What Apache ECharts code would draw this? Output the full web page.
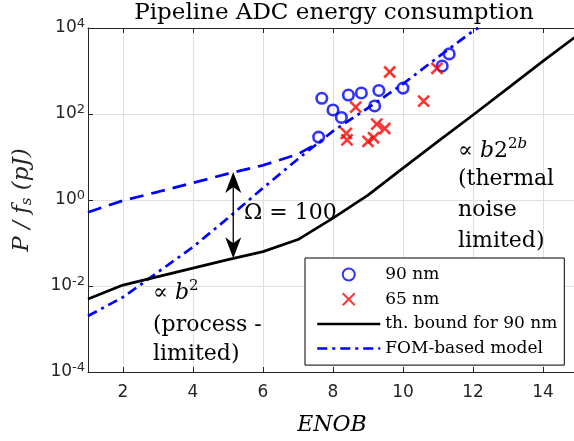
<!DOCTYPE html>
<html><head><meta charset="utf-8">
<script src="https://cdn.jsdelivr.net/npm/echarts@6/dist/echarts.min.js"></script>
<style>html,body{margin:0;padding:0;background:#fff}#c{width:574px;height:441px}</style>
</head><body><div id="c"></div>
<script>
// ---- data ----
const enobTicks = [2, 4, 6, 8, 10, 12, 14];
const yTicks = [1e-4, 1e-2, 1, 1e2, 1e4];

const nm90 = [[7.59, 29], [7.68, 232], [8.0, 124], [8.24, 83], [8.44, 276], [8.81, 309],
              [9.19, 154], [9.31, 353], [10.0, 400], [11.12, 1310], [11.32, 2500]];
const nm65 = [[8.38, 35.5], [8.40, 25], [8.65, 144], [9.0, 23], [9.16, 28], [9.25, 58],
              [9.48, 46], [9.62, 950], [10.59, 200], [10.97, 1150]];

const boundEnob = [1, 2, 3, 4, 5, 6, 7, 8, 9, 10, 11, 12, 13, 14, 15];
const boundVal  = [0.005, 0.0105, 0.0165, 0.026, 0.041, 0.063, 0.12, 0.38, 1.3, 5.5, 23, 95, 400, 1700, 6900];

const fomEnob = [1, 2, 3, 4, 5, 6, 7, 8, 9, 10, 11, 12, 12.15];
const fomVal  = [0.002, 0.0055, 0.021, 0.081, 0.38, 1.9, 9, 40, 138, 500, 2100, 8500, 10000];

const procEnob = [1, 2, 3, 4, 5, 6, 7, 7.7];
const procVal  = [0.52, 0.97, 1.55, 2.5, 4.1, 6.4, 11.7, 24];

const arrowEnob = 5.15, arrowTop = 4.5, arrowBottom = 0.044;

// ---- build ----
const zip = (a, b) => a.map((x, i) => [x, b[i]]);
const boundData = zip(boundEnob, boundVal);
const fomData = zip(fomEnob, fomVal);
const dashedData = zip(procEnob, procVal);

const SERIF = "'DejaVu Serif', serif";
const SANS = "'DejaVu Sans', sans-serif";
const AX = '#262626';

const chart = echarts.init(document.getElementById('c'), null, {renderer: 'canvas'});

const xCommon = {
  type: 'value', min: 1, max: 15,
  axisLine: {show: true, lineStyle: {color: AX, width: 1}},
  axisTick: {show: true, inside: true, length: 5, customValues: enobTicks, lineStyle: {color: AX}},
};

const option = {
  animation: false,
  backgroundColor: '#fff',
  grid: {left: 88, top: 28, width: 490, height: 344, containLabel: false, outerBoundsMode: 'none'},
  xAxis: [
    Object.assign({}, xCommon, {
      position: 'bottom',
      axisLabel: {show: true, customValues: enobTicks, margin: 12, color: AX, fontFamily: SANS, fontSize: 17},
      splitLine: {show: true, lineStyle: {color: '#dfdfdf', width: 1}}
    }),
    Object.assign({}, xCommon, {
      position: 'top',
      axisLabel: {show: false},
      splitLine: {show: false}
    })
  ],
  yAxis: {
    type: 'log', logBase: 10, min: 1e-4, max: 1e4, interval: 2,
    axisLine: {show: true, lineStyle: {color: AX, width: 1}},
    axisTick: {show: true, inside: true, length: 5, lineStyle: {color: AX}},
    minorTick: {show: false},
    splitLine: {show: true, lineStyle: {color: '#dfdfdf', width: 1}},
    axisLabel: {
      margin: 3, color: AX,
      formatter: v => '{b|10}{s|' + Math.round(Math.log10(v)) + '}',
      rich: {
        b: {fontFamily: SANS, fontSize: 17, color: AX},
        s: {fontFamily: SANS, fontSize: 13, color: AX, padding: [0, 0, 9, 0]}
      }
    }
  },
  legend: {
    orient: 'vertical', left: 305, top: 258,
    itemWidth: 63, itemHeight: 12, itemGap: 7.7,
    padding: [8, 7, 8, 11],
    borderColor: '#000', borderWidth: 1, borderRadius: 0, backgroundColor: '#fff',
    textStyle: {fontFamily: SERIF, fontSize: 17, color: '#000'},
    lineStyle: {width: 2.5},
    data: ['90 nm', '65 nm', 'th. bound for 90 nm', 'FOM-based model']
  },
  series: [
    {
      name: 'dashed', type: 'line', data: dashedData, symbol: 'none', showSymbol: false,
      lineStyle: {color: '#0000ff', width: 2.7, type: [14, 8]}, z: 3
    },
    {
      name: 'FOM-based model', type: 'line', data: fomData, symbol: 'none', showSymbol: false,
      itemStyle: {color: '#0000ff', opacity: 0},
      lineStyle: {color: '#0000ff', width: 2.7, type: [10, 5, 3, 5], opacity: 1}, z: 3
    },
    {
      name: 'th. bound for 90 nm', type: 'line', data: boundData, symbol: 'none', showSymbol: false,
      itemStyle: {color: '#000', opacity: 0},
      lineStyle: {color: '#000', width: 2.7, opacity: 1}, z: 3
    },
    {
      name: '90 nm', type: 'scatter', data: nm90, symbol: 'circle', symbolSize: 10.5,
      itemStyle: {color: 'rgba(0,0,0,0)', borderColor: '#0000ff', borderWidth: 2.6}, z: 4
    },
    {
      name: '65 nm', type: 'scatter', data: nm65, symbol: 'path://M0,0L10,10M10,0L0,10', symbolSize: 11,
      itemStyle: {color: '#ff0000', borderColor: '#ff0000', borderWidth: 2.6}, z: 4
    }
  ]
};
chart.setOption(option);

// ---- annotations ----
const pTop = chart.convertToPixel({xAxisIndex: 0, yAxisIndex: 0}, [arrowEnob, arrowTop]);
const pBot = chart.convertToPixel({xAxisIndex: 0, yAxisIndex: 0}, [arrowEnob, arrowBottom]);
const head = (tx, ty, d) => ({
  type: 'polygon', z: 10,
  shape: {points: [[tx, ty], [tx + 8, ty + d * 21], [tx, ty + d * 15], [tx - 8, ty + d * 21]]},
  style: {fill: '#000'}
});
const txt = (x, y, text, extra) => Object.assign({
  type: 'text', x: x, y: y, z: 10,
  style: Object.assign({text: text, fill: '#000', fontFamily: SERIF, fontSize: 22,
                        textAlign: 'left', textVerticalAlign: 'middle'}, extra || {})
});
const richMath = {
  r: {fontFamily: SERIF, fontSize: 22, fill: '#000'},
  i: {fontFamily: SERIF, fontSize: 22, fontStyle: 'italic', fill: '#000'},
  sup: {fontFamily: SERIF, fontSize: 15, fill: '#000', padding: [0, 0, 13, 0]},
  supi: {fontFamily: SERIF, fontSize: 15, fontStyle: 'italic', fill: '#000', padding: [0, 0, 13, 0]}
};

chart.setOption({
  graphic: [
    {type: 'line', z: 10, shape: {x1: pTop[0], y1: pTop[1] + 14, x2: pBot[0], y2: pBot[1] - 14},
     style: {stroke: '#000', lineWidth: 1.3}},
    head(pTop[0], pTop[1], 1),
    head(pBot[0], pBot[1], -1),
    txt(334, 13, 'Pipeline ADC energy consumption', {textAlign: 'center', fontSize: 23}),
    txt(332, 425, 'ENOB', {textAlign: 'center', fontStyle: 'italic'}),
    {
      type: 'text', x: 22, y: 200, rotation: Math.PI / 2, z: 10,
      style: {
        text: '{i|P / f}{s|s}{i| (pJ)}', textAlign: 'center', textVerticalAlign: 'middle',
        rich: {
          i: {fontFamily: SERIF, fontSize: 23, fontStyle: 'italic', fill: AX},
          s: {fontFamily: SERIF, fontSize: 15, fontStyle: 'italic', fill: AX, padding: [10, 0, 0, 0]}
        }
      }
    },
    txt(244, 213, 'Ω = 100'),
    txt(458, 151, '{r|∝ }{i|b}{r|2}{sup|2}{supi|b}', {rich: richMath}),
    txt(458, 179, '(thermal'),
    txt(458, 210, 'noise'),
    txt(458, 241, 'limited)'),
    txt(153, 293, '{r|∝ }{i|b}{sup|2}', {rich: richMath}),
    txt(153, 325, '(process -'),
    txt(153, 354, 'limited)')
  ]
});
</script>
</body></html>
